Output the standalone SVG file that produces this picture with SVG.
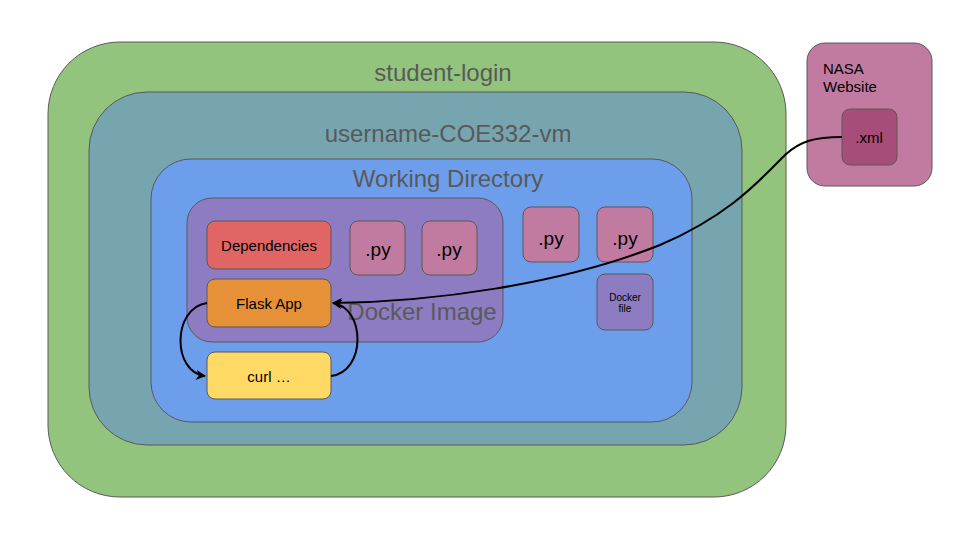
<svg xmlns="http://www.w3.org/2000/svg" width="960" height="540" viewBox="0 0 960 540">
<defs>
<style>
.box{stroke:#595959;stroke-width:1}
.t{font-family:"Liberation Sans",Arial,sans-serif;fill:#000;text-anchor:middle;dominant-baseline:central}
.title{font-family:"Liberation Sans",Arial,sans-serif;fill:#595959;text-anchor:middle;dominant-baseline:central;font-size:24px}
.conn{fill:none;stroke:#000;stroke-width:2}
</style>
<marker id="arr" viewBox="0 0 10 10" refX="9" refY="5" markerWidth="5" markerHeight="5" orient="auto" markerUnits="strokeWidth">
<path d="M0,0 L10,5 L0,10 L3,5 z" fill="#000"/>
</marker>
</defs>
<rect width="960" height="540" fill="#fff"/>
<g id="student-login">
<rect class="box" x="48" y="42" width="738" height="455" rx="72" fill="#93c47d"/>
<text class="title" x="443" y="72">student-login</text>
</g>
<g id="vm">
<rect class="box" x="89" y="92" width="653" height="353" rx="58" fill="#76a5af"/>
<text class="title" x="448" y="133">username-COE332-vm</text>
</g>
<g id="working-directory">
<rect class="box" x="151" y="159" width="541" height="263" rx="40" fill="#6d9eeb"/>
<text class="title" x="448" y="178">Working Directory</text>
</g>
<g id="docker-image">
<rect class="box" x="187" y="198" width="316" height="144" rx="25" fill="#8e7cc3"/>
<text class="title" x="422" y="311">Docker Image</text>
</g>
<g id="dependencies">
<rect class="box" x="207" y="221" width="124" height="48" rx="8" fill="#e06666"/>
<text class="t" x="269" y="245" font-size="15">Dependencies</text>
</g>
<g id="py1">
<rect class="box" x="350" y="221" width="55" height="54" rx="8" fill="#c27ba0"/>
<text class="t" x="378" y="249" font-size="19">.py</text>
</g>
<g id="py2">
<rect class="box" x="422" y="221" width="55" height="54" rx="8" fill="#c27ba0"/>
<text class="t" x="449" y="249" font-size="19">.py</text>
</g>
<g id="flask-app">
<rect class="box" x="207" y="279" width="124" height="48" rx="8" fill="#e69138"/>
<text class="t" x="269" y="303" font-size="15">Flask App</text>
</g>
<g id="curl">
<rect class="box" x="207" y="352" width="124" height="47" rx="8" fill="#ffd966"/>
<text class="t" x="269" y="376" font-size="15">curl …</text>
</g>
<g id="py3">
<rect class="box" x="523" y="207" width="56" height="55" rx="8" fill="#c27ba0"/>
<text class="t" x="551" y="238" font-size="19">.py</text>
</g>
<g id="py4">
<rect class="box" x="597" y="207" width="56" height="55" rx="8" fill="#c27ba0"/>
<text class="t" x="625" y="238" font-size="19">.py</text>
</g>
<g id="dockerfile">
<rect class="box" x="597" y="274" width="56" height="56" rx="8" fill="#8e7cc3"/>
<text class="t" x="625" y="297" font-size="10">Docker</text>
<text class="t" x="625" y="308" font-size="10">file</text>
</g>
<g id="nasa-website">
<rect class="box" x="807" y="43" width="125" height="143" rx="18" fill="#c27ba0"/>
<text class="t" x="823" y="68" font-size="15" style="text-anchor:start">NASA</text>
<text class="t" x="823" y="86" font-size="15" style="text-anchor:start">Website</text>
</g>
<g id="xml">
<rect class="box" x="842" y="109" width="55" height="56" rx="8" fill="#a64d79"/>
<text class="t" x="869" y="137" font-size="15">.xml</text>
</g>
<g id="connectors">
<path class="conn" d="M842,137 C815,137 800,141 785,155 C760,180 730,215 660,245 C560,285 430,302 333,303" marker-end="url(#arr)"/>
<path class="conn" d="M207,303 C172,308 172,372 205,376" marker-end="url(#arr)"/>
<path class="conn" d="M331,376 C366,372 366,308 333,303" marker-end="url(#arr)"/>
</g>
</svg>
